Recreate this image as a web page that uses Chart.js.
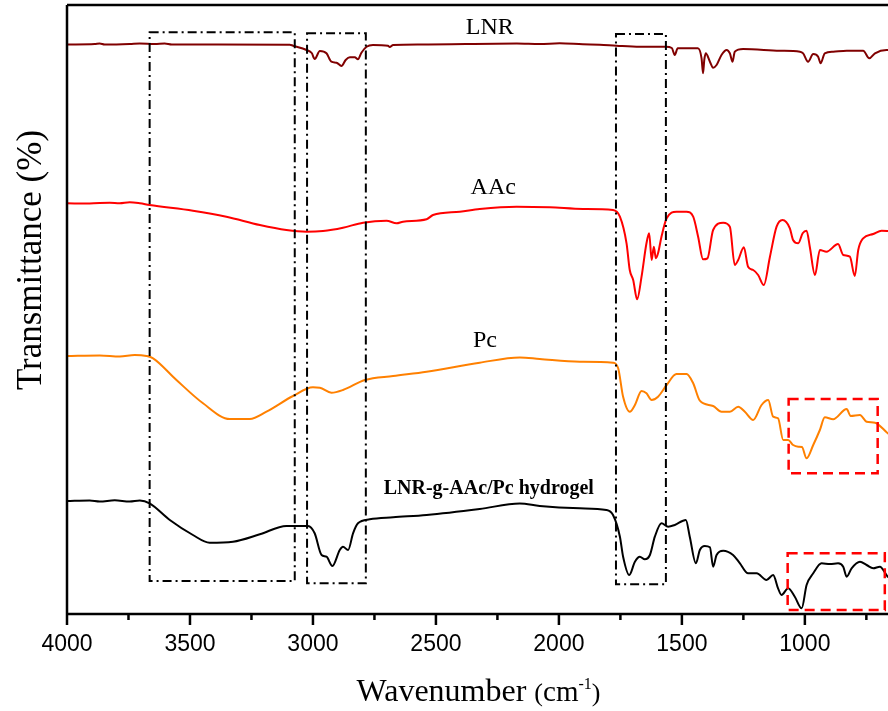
<!DOCTYPE html>
<html>
<head>
<meta charset="utf-8">
<script src="https://cdn.jsdelivr.net/npm/chart.js@4/dist/chart.umd.min.js"></script>
<style>
html,body{margin:0;padding:0;background:#fff;}
#wrap{width:888px;height:711px;position:relative;}
</style>
</head>
<body>
<div id="wrap"><canvas id="c" width="888" height="711"></canvas></div>
<script>
// ---- data (wavenumber in cm-1, offset transmittance in arbitrary units) ----
const majorTicks = [4000, 3500, 3000, 2500, 2000, 1500, 1000];
const minorTicks = [3750, 3250, 2750, 2250, 1750, 1250, 750];

const lnrWn = [4000,3887,3867,3847,3745,3704,3643,3603,3574,3094,3081,3026,3005,2993,2972,2945,2925,2904,2884,2867,2850,2830,2817,2803,2782,2756,2695,2688,2674,2566,2171,2078,1997,1903,1834,1766,1671,1565,1541,1529,1517,1435,1420,1414,1409,1403,1386,1373,1359,1339,1318,1305,1294,1285,1251,1102,1020,1007,987,966,946,936,919,885,830,763,738,715,668,654];
const lnrT  = [569.5,570,570.5,569.5,570,570.5,570,570.5,569.5,569.3,568.3,564,561,555,563,560.7,552.3,551.3,548,554,556.7,556.7,554.7,561.3,567.3,569,568.3,567,569,569.5,570.5,570,570.7,569.7,569.3,568.3,567.3,567.3,566,559,565.7,565.7,555.7,540.7,554,560.7,552.3,546.3,549,559,564,560.7,552.3,562.3,565,563.3,562.3,560.7,552.3,560,557.3,550.7,560.7,562.3,563.3,563.3,555.7,560.7,564,564];

const aacWn = [4000,3908,3826,3786,3745,3704,3664,3488,3352,3216,3108,3026,2959,2878,2796,2701,2660,2634,2538,2512,2403,2322,2172,2037,1902,1780,1752,1725,1712,1698,1682,1664,1644,1633,1623,1614,1606,1597,1583,1562,1522,1481,1454,1434,1414,1396,1373,1332,1305,1285,1271,1248,1231,1210,1190,1167,1142,1115,1091,1061,1048,1027,1009,993,980,959,939,912,865,844,817,797,783,763,722,688,654];
const aacT  = [410.7,410.5,411.3,410.7,411.7,410.7,409,403.3,397.3,389,384,382.3,383,386.3,391.3,393.3,390.7,392.3,394.7,399,402.3,405,407.3,406.7,405,404,397.3,370.7,344,334,314.7,337.3,370.7,380.7,354,367.3,355.7,360.7,377.3,395.7,402.3,402.3,397.3,377.3,354.7,355.7,384,391.3,387.3,349,354,366.7,347.3,344,339,329,357.3,387.3,394,385.7,374,370.7,380.7,383.3,367.3,339,364,362.3,370,359,357.3,338,364,375.7,380,383.3,383];

const pcWn = [4000,3867,3785,3725,3677,3650,3555,3447,3338,3257,3189,3081,3000,2972,2925,2878,2789,2674,2538,2322,2159,2078,1915,1780,1759,1739,1712,1691,1664,1644,1623,1597,1562,1522,1481,1454,1427,1373,1339,1305,1271,1244,1210,1176,1149,1129,1109,1088,1068,1048,1027,1012,993,966,939,919,885,830,814,776,749,715,663,654];
const pcT  = [258,258.5,257.5,259,258,255.7,234,210.7,195,195,202.3,218,226.7,226.3,221.3,224,234,238,242.3,251.3,256.5,255,252.3,251.3,245.7,217.3,202.3,209,223,220.7,214,217.3,229,240,240,230.7,213.3,208,202.3,202.3,207.3,202.3,194,209,214,197.3,195.7,174,174,169,167.3,167,155.7,169,184,196.7,194.7,205,198,199,192.3,191.3,180.7,179];

const gelWn = [4000,3908,3867,3806,3745,3704,3664,3582,3488,3420,3325,3216,3108,3020,2993,2965,2945,2921,2891,2878,2857,2837,2817,2769,2674,2538,2322,2159,2078,1915,1807,1780,1752,1739,1714,1691,1671,1651,1630,1610,1583,1556,1529,1484,1468,1443,1427,1407,1386,1373,1359,1332,1292,1264,1231,1196,1156,1129,1109,1095,1068,1041,1013,993,966,932,898,865,844,830,810,776,749,722,695,663,654];
const gelT  = [113,113.5,112.5,113.7,112.5,113.5,110.7,94,79,71.3,72.3,79.7,88,88,80.7,59,57.3,48,64,67.3,64,80.7,90.7,94.7,96.7,99,105,110.5,108,105.7,104,99,77.3,57.3,39,52.3,57.3,54.7,59,77.3,90.7,87.3,89,94,77.3,50.7,64,68,66.7,47.3,59,63.3,59,50.7,40.7,40.7,34,39,25.7,19,25.7,17.3,5.7,29,40.7,50.7,50,50.7,47.3,37.3,45.7,52.3,49,45.7,47.3,37.3,36];

// highlighted regions: [wnLeft, wnRight, top, bottom]
const boxRegionsWn = [[3664, 3074], [3024, 2785], [1768, 1565]];
const boxRegionsT  = [[581.7, 33], [580.7, 30.7], [580, 29.7]];
const redRegionsWn = [[1066, 704], [1070, 675]];
const redRegionsT  = [[215, 140.7], [60.7, 4]];

// series labels
const seriesNames = ['LNR', 'AAc', 'Pc', 'LNR-g-AAc/Pc hydrogel'];
const labelWn = [2281, 2267, 2301, 2285];
const labelT  = [587, 427.3, 274, 126.5];

const toXY = (w, t) => w.map((v, i) => ({x: v, y: t[i]}));

const annot = {
  id: 'annot',
  afterDatasetsDraw(chart) {
    const {ctx, chartArea: a, scales: {x, y}} = chart;
    ctx.save();
    // dash-dot black boxes
    ctx.strokeStyle = '#000';
    ctx.lineWidth = 2;
    ctx.setLineDash([9, 4, 2, 4]);
    boxRegionsWn.forEach((r, i) => {
      const x1 = x.getPixelForValue(r[0]), x2 = x.getPixelForValue(r[1]);
      const y1 = y.getPixelForValue(boxRegionsT[i][0]), y2 = y.getPixelForValue(boxRegionsT[i][1]);
      ctx.strokeRect(x1, y1, x2 - x1, y2 - y1);
    });
    // red dashed boxes
    ctx.strokeStyle = '#ff0000';
    ctx.lineWidth = 2.5;
    ctx.setLineDash([10, 6]);
    redRegionsWn.forEach((r, i) => {
      const x1 = x.getPixelForValue(r[0]), x2 = x.getPixelForValue(r[1]);
      const y1 = y.getPixelForValue(redRegionsT[i][0]), y2 = y.getPixelForValue(redRegionsT[i][1]);
      ctx.strokeRect(x1, y1, x2 - x1, y2 - y1);
    });
    ctx.setLineDash([]);
    // series labels
    ctx.fillStyle = '#000';
    ctx.textAlign = 'center';
    ctx.textBaseline = 'middle';
    seriesNames.forEach((n, i) => {
      ctx.font = i === 3 ? 'bold 20px "Liberation Serif"' : '24px "Liberation Serif"';
      ctx.fillText(n, x.getPixelForValue(labelWn[i]), y.getPixelForValue(labelT[i]) + 1);
    });
    ctx.restore();
  },
  afterDraw(chart) {
    const {ctx, chartArea: a, scales: {x}} = chart;
    ctx.save();
    ctx.strokeStyle = '#000';
    ctx.lineWidth = 2.5;
    // frame: left, top, bottom
    ctx.beginPath();
    ctx.moveTo(a.left, a.top); ctx.lineTo(a.right + 5, a.top);
    ctx.moveTo(a.left, a.top); ctx.lineTo(a.left, a.bottom);
    ctx.moveTo(a.left - 1, a.bottom); ctx.lineTo(a.right + 5, a.bottom);
    ctx.stroke();
    // tick marks
    ctx.beginPath();
    majorTicks.forEach(v => { const p = x.getPixelForValue(v); ctx.moveTo(p, a.bottom); ctx.lineTo(p, a.bottom + 11); });
    minorTicks.forEach(v => { const p = x.getPixelForValue(v); if (p <= a.right) { ctx.moveTo(p, a.bottom); ctx.lineTo(p, a.bottom + 6); } });
    ctx.stroke();
    // axis titles
    ctx.fillStyle = '#000';
    ctx.textBaseline = 'alphabetic';
    const parts = [
      ['Wavenumber ', '32px "Liberation Serif"', 0],
      ['(', '26px "Liberation Serif"', 0],
      ['cm', '29px "Liberation Serif"', 0],
      ['-1', '16px "Liberation Serif"', -12],
      [')', '26px "Liberation Serif"', 0]
    ];
    let total = 0;
    parts.forEach(p => { ctx.font = p[1]; total += ctx.measureText(p[0]).width; });
    let cx = (a.left + a.right) / 2 + 1 - total / 2;
    ctx.textAlign = 'left';
    parts.forEach(p => { ctx.font = p[1]; ctx.fillText(p[0], cx, 701 + p[2]); cx += ctx.measureText(p[0]).width; });
    ctx.translate(41, 260);
    ctx.rotate(-Math.PI / 2);
    ctx.textAlign = 'center';
    ctx.font = '35px "Liberation Serif"';
    ctx.fillText('Transmittance (%)', 0, 0);
    ctx.restore();
  }
};

new Chart(document.getElementById('c'), {
  type: 'line',
  data: {
    datasets: [
      {label: 'LNR', data: toXY(lnrWn, lnrT), borderColor: '#800000'},
      {label: 'AAc', data: toXY(aacWn, aacT), borderColor: '#ff0000'},
      {label: 'Pc', data: toXY(pcWn, pcT), borderColor: '#ff8000'},
      {label: 'LNR-g-AAc/Pc hydrogel', data: toXY(gelWn, gelT), borderColor: '#000000'}
    ]
  },
  options: {
    responsive: false,
    animation: false,
    devicePixelRatio: 1,
    layout: {padding: {left: 67, top: 5, right: 0, bottom: 0}},
    elements: {
      point: {radius: 0},
      line: {borderWidth: 2, tension: 0, cubicInterpolationMode: 'monotone', fill: false}
    },
    plugins: {legend: {display: false}, tooltip: {enabled: false}},
    scales: {
      x: {
        type: 'linear',
        reverse: true,
        min: 662,
        max: 4000,
        afterBuildTicks: s => { s.ticks = majorTicks.map(v => ({value: v})); },
        afterFit: s => { s.height = 97; },
        border: {display: false},
        grid: {drawOnChartArea: false, drawTicks: true, tickLength: 11, tickColor: 'rgba(0,0,0,0)'},
        ticks: {
          color: '#000',
          padding: 6,
          maxRotation: 0,
          autoSkip: false,
          font: {family: '"Liberation Sans"', size: 23},
          callback: v => String(v)
        }
      },
      y: {
        type: 'linear',
        display: false,
        min: 0,
        max: 609
      }
    }
  },
  plugins: [annot]
});
</script>
</body>
</html>
